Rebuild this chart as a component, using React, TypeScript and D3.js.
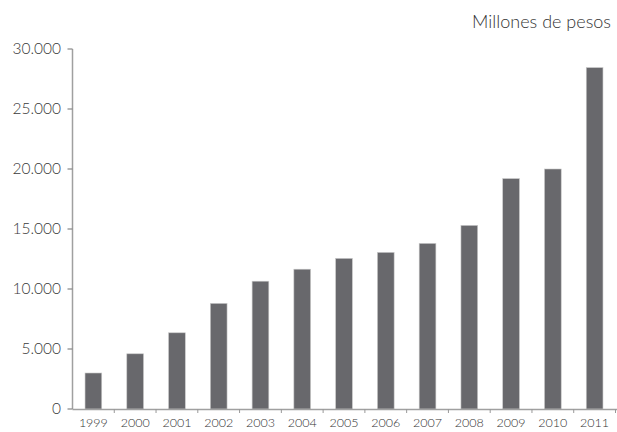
import React from "react";
import * as d3 from "d3";

const years = ["1999","2000","2001","2002","2003","2004","2005","2006","2007","2008","2009","2010","2011"];
const values = [3000, 4600, 6350, 8800, 10650, 11650, 12550, 13050, 13800, 15300, 19200, 20000, 28450];
const yTicks = [0, 5000, 10000, 15000, 20000, 25000, 30000];
const unitLabel = "Millones de pesos";

const W = 617, H = 432;
const left = 72.5, right = 615.5, top = 49, bottom = 409;

export default function App() {
  const x = d3.scaleBand<string>().domain(years).range([left, right]).padding(0);
  const y = d3.scaleLinear().domain([0, 30000]).range([bottom, top]);
  const bw = x.step() * 0.4;
  const fmt = (v: number) => d3.format(",")(v).replace(/,/g, ".");
  const font = "Lato, 'Open Sans', sans-serif";
  const boundaries = years.map((_, i) => left + x.step() * (i + 1));
  return (
    <svg width={W} height={H} style={{ position: "absolute", left: 0, top: 0, background: "#fff" }} fontFamily={font}>
      <text x={611} y={28} textAnchor="end" fontSize={18} fill="#333" fontWeight={300}>{unitLabel}</text>
      {years.map((yr, i) => (
        <rect key={yr} x={(x(yr) as number) + (x.step() - bw) / 2} y={y(values[i])} width={bw} height={bottom - y(values[i])} fill="#68686c" stroke="#c8c8c8" strokeWidth={0.6} />
      ))}
      <line x1={left} x2={left} y1={top} y2={bottom} stroke="#a0a0a0" strokeWidth={1.5} />
      <line x1={left} x2={617} y1={bottom + 0.5} y2={bottom + 0.5} stroke="#a0a0a0" strokeWidth={1.5} />
      {yTicks.map(t => (
        <g key={t}>
          <line x1={left - 5} x2={left} y1={y(t)} y2={y(t)} stroke="#888" strokeWidth={1.2} />
          <text x={61} y={y(t)} dy="0.35em" textAnchor="end" fontSize={15.5} fill="#3a3a3a" fontWeight={300}>{fmt(t)}</text>
        </g>
      ))}
      {boundaries.map((bx, i) => (
        <line key={i} x1={bx} x2={bx} y1={bottom} y2={bottom + 4} stroke="#999" strokeWidth={1} />
      ))}
      {years.map(yr => (
        <text key={yr} x={(x(yr) as number) + x.step() / 2} y={427} textAnchor="middle" fontSize={12.5} fill="#333" fontWeight={300}>{yr}</text>
      ))}
    </svg>
  );
}
